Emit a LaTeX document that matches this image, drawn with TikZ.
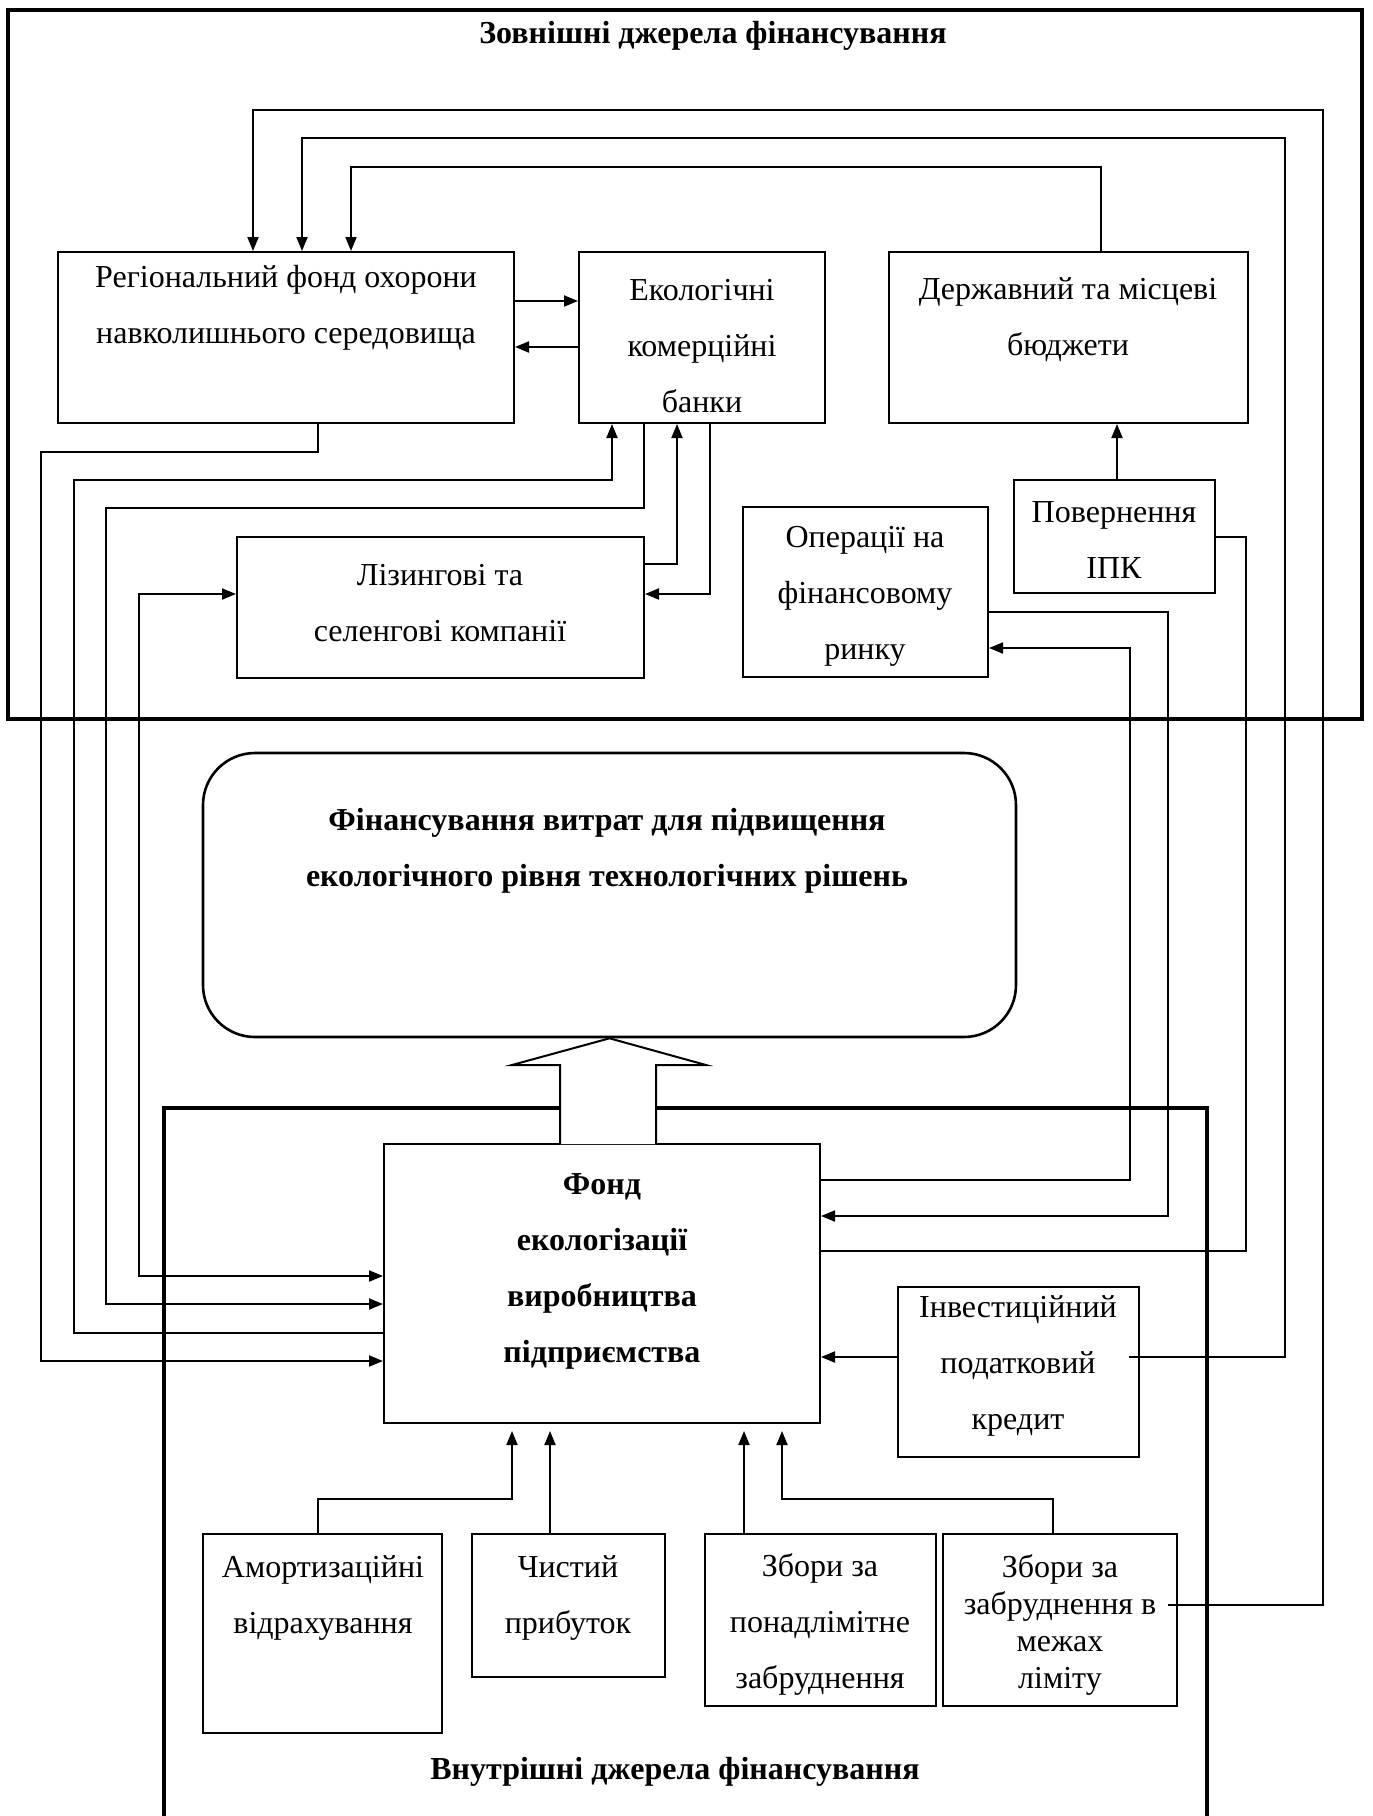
\documentclass[tikz,border=0pt]{standalone}
\usepackage{fontspec}
\setmainfont{Liberation Serif}
\usetikzlibrary{arrows.meta,calc}
\begin{document}
\begin{tikzpicture}[x=0.5pt,y=-0.5pt,
  box/.style={draw,line width=1pt,inner sep=0pt},
  bigbox/.style={draw,line width=1.6pt,inner sep=0pt},
  txt/.style={align=center,inner sep=0pt,font=\fontsize{16pt}{28pt}\selectfont},
  btxt/.style={align=center,inner sep=0pt,font=\fontsize{16pt}{28pt}\selectfont\bfseries},
  ln/.style={line width=1pt},
  arr/.style={ln,-{Triangle[length=7pt,width=5.5pt]}},
  barr/.style={ln,{Triangle[length=7pt,width=5.5pt]}-{Triangle[length=7pt,width=5.5pt]}}
]
\useasboundingbox (0,0) rectangle (1372,1816);

% outer (external sources) frame
\node[bigbox,minimum width=677pt,minimum height=354.5pt] (outer) at (685,364.5) {};
\node[btxt] (outertitle) at (713,36) {Зовнішні джерела фінансування};

% inner (internal sources) frame
\draw[line width=1.6pt] (164,1830) -- (164,1108) -- (1207,1108) -- (1207,1830);
\node[btxt] (innertitle) at (675,1772) {Внутрішні джерела фінансування};

% boxes
\node[box,minimum width=228pt,minimum height=85.5pt] (reg) at (286,337.5) {};
\node[txt] (regt) at (286,308) {Регіональний фонд охорони\\навколишнього середовища};

\node[box,minimum width=123pt,minimum height=85.5pt] (eco) at (702,337.5) {};
\node[txt] (ecot) at (702,346) {Екологічні\\комерційні\\банки};

\node[box,minimum width=179.5pt,minimum height=85.5pt] (derzh) at (1068.5,337.5) {};
\node[txt] (derzht) at (1068,320) {Державний та місцеві\\бюджети};

\node[box,minimum width=203.5pt,minimum height=70.5pt] (lizing) at (440.5,607.5) {};
\node[txt] (lizingt) at (440,603) {Лізингові та\\селенгові компанії};

\node[box,minimum width=122.5pt,minimum height=85pt] (oper) at (865.5,592) {};
\node[txt] (opert) at (865,596) {Операції на\\фінансовому\\ринку};

\node[box,minimum width=100.5pt,minimum height=56.5pt] (povern) at (1114.5,536.5) {};
\node[txt] (povernt) at (1114,540) {Повернення\\ІПК};

\node[draw,line width=1.3pt,rounded corners=26pt,inner sep=0pt,minimum width=406.5pt,minimum height=142pt] (goal) at (609.5,895) {};
\node[btxt] (goalt) at (607,851) {Фінансування витрат для підвищення\\екологічного рівня технологічних рішень};

\node[box,minimum width=218pt,minimum height=139.5pt] (fond) at (602,1283.5) {};
\node[btxt] (fondt) at (602,1271) {Фонд\\екологізації\\виробництва\\підприємства};

\node[box,minimum width=120.5pt,minimum height=85pt] (invest) at (1018.5,1372) {};
\node[txt] (investt) at (1018,1366) {Інвестиційний\\податковий\\кредит};

\node[box,minimum width=119.5pt,minimum height=99.5pt] (amort) at (322.5,1633.5) {};
\node[txt] (amortt) at (323,1598) {Амортизаційні\\відрахування};

\node[box,minimum width=96.5pt,minimum height=71.5pt] (chyst) at (568.5,1605.5) {};
\node[txt] (chystt) at (568,1598) {Чистий\\прибуток};

\node[box,minimum width=115.5pt,minimum height=86pt] (zb1) at (820.5,1620) {};
\node[txt] (zb1t) at (820,1624) {Збори за\\понадлімітне\\забруднення};

\node[box,minimum width=117pt,minimum height=86pt] (zb2) at (1060,1620) {};
\node[align=center,inner sep=0pt,font=\fontsize{16pt}{18.5pt}\selectfont] (zb2t) at (1060,1625) {Збори за\\забруднення в\\межах\\ліміту};

% hollow arrow from the fund to the goal
\draw[line width=1pt,fill=white] (560,1144) -- (560,1065) -- (512,1065) -- (goal.south) -- (706,1065) -- (656,1065) -- (656,1144);

% free ends inside boxes
\coordinate (zb2in) at (1168,1605);
\coordinate (invin) at (1129,1357);

% connectors
\draw[arr] (zb2in) -- (1323,1605) -- (1323,110) -- (253,110) -- (reg.north -| 253,0);
\draw[arr] (invin) -- (1285,1357) -- (1285,138) -- (302,138) -- (reg.north -| 302,0);
\draw[arr] (derzh.north -| 1101,0) -- (1101,167) -- (351,167) -- (reg.north -| 351,0);
\draw[arr] (reg.east |- 0,301) -- (eco.west |- 0,301);
\draw[arr] (eco.west |- 0,347) -- (reg.east |- 0,347);
\draw[arr] (reg.south -| 318,0) -- (318,452) -- (41,452) -- (41,1361) -- (fond.west |- 0,1361);
\draw[arr] (fond.west |- 0,1333) -- (74,1333) -- (74,480) -- (612,480) -- (eco.south -| 612,0);
\draw[arr] (eco.south -| 644,0) -- (644,508) -- (106,508) -- (106,1304) -- (fond.west |- 0,1304);
\draw[barr] (lizing.west |- 0,594) -- (139,594) -- (139,1276) -- (fond.west |- 0,1276);
\draw[arr] (eco.south -| 710,0) -- (710,594) -- (lizing.east |- 0,594);
\draw[arr] (lizing.east |- 0,564) -- (677,564) -- (eco.south -| 677,0);
\draw[arr] (povern.north -| 1117,0) -- (derzh.south -| 1117,0);
\draw[ln] (fond.east |- 0,1251) -- (1246,1251) -- (1246,537) -- (povern.east |- 0,537);
\draw[arr] (oper.east |- 0,612) -- (1168,612) -- (1168,1216) -- (fond.east |- 0,1216);
\draw[arr] (fond.east |- 0,1180) -- (1130,1180) -- (1130,648) -- (oper.east |- 0,648);
\draw[arr] (invest.west |- 0,1357) -- (fond.east |- 0,1357);
\draw[arr,shorten >=3.5pt] (amort.north -| 318,0) -- (318,1499) -- (512,1499) -- (fond.south -| 512,0);
\draw[arr,shorten >=3.5pt] (chyst.north -| 550,0) -- (fond.south -| 550,0);
\draw[arr,shorten >=3.5pt] (zb1.north -| 744,0) -- (fond.south -| 744,0);
\draw[arr,shorten >=3.5pt] (zb2.north -| 1053,0) -- (1053,1499) -- (782,1499) -- (fond.south -| 782,0);
\end{tikzpicture}
\end{document}
